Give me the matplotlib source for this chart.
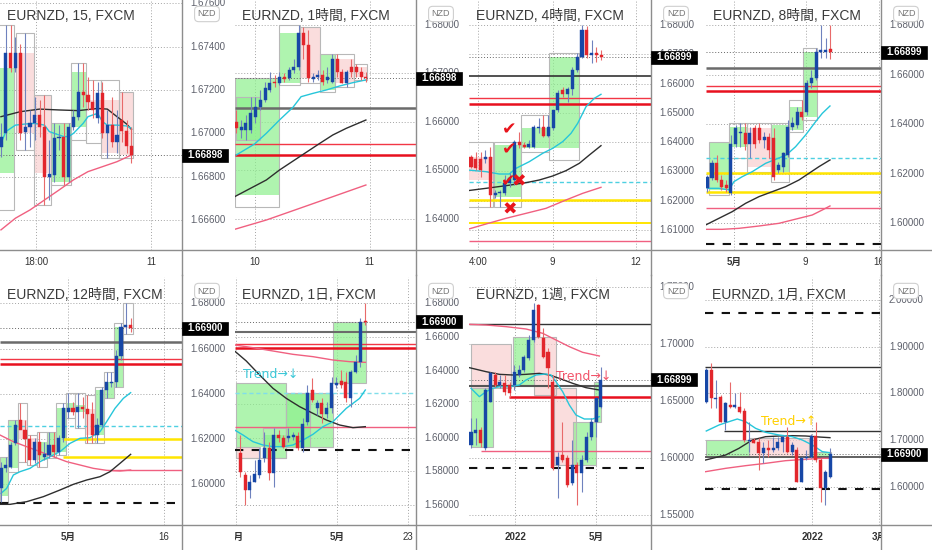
import matplotlib
matplotlib.use('Agg')
import matplotlib.pyplot as plt
import matplotlib.transforms as mtrans
from matplotlib.patches import Rectangle
from matplotlib.lines import Line2D

plt.rcParams['font.family'] = ['Liberation Sans', 'Noto Sans CJK JP', 'DejaVu Sans']

# ---------------- DATA ----------------
TITLES = ["EURNZD, 15, FXCM", "EURNZD, 1時間, FXCM", "EURNZD, 4時間, FXCM", "EURNZD, 8時間, FXCM",
          "EURNZD, 12時間, FXCM", "EURNZD, 1日, FXCM", "EURNZD, 1週, FXCM", "EURNZD, 1月, FXCM"]
TAGS = ["1.66898", "1.66898", "1.66899", "1.66899", "1.66900", "1.66900", "1.66899", "1.66900"]

# Panel 1 (15 min)
P1_O = [1.66938,1.67000,1.67369,1.67300,1.67369,1.67008,1.67031,1.67046,1.67085,1.67031,1.66800,1.66808,1.66977,1.66982,1.66800,1.67031,1.67077,1.67192,1.67177,1.67146,1.67069,1.67185,1.67000,1.67038,1.66962,1.67062,1.67012,1.66942]
P1_H = [1.67046,1.67500,1.67500,1.67446,1.67415,1.67462,1.67108,1.67169,1.67154,1.67177,1.66969,1.67046,1.67038,1.67046,1.67046,1.67108,1.67323,1.67323,1.67262,1.67246,1.67238,1.67238,1.67108,1.67169,1.67108,1.67192,1.67062,1.67031]
P1_L = [1.66892,1.66969,1.67285,1.67285,1.66969,1.66923,1.66938,1.66969,1.66985,1.66669,1.66692,1.66777,1.66923,1.66762,1.66777,1.67015,1.67062,1.67123,1.67108,1.67069,1.67046,1.66977,1.66885,1.66938,1.66908,1.66962,1.66908,1.66862]
P1_C = [1.66985,1.67369,1.67300,1.67369,1.67000,1.67031,1.67049,1.67085,1.67031,1.66800,1.66812,1.66977,1.66982,1.66800,1.67031,1.67077,1.67192,1.67177,1.67146,1.67108,1.67185,1.67000,1.67038,1.66962,1.66992,1.67012,1.66942,1.66898]
P1_MA_BLACK = [(0,1.67077),(4,1.67100),(8,1.67112),(12,1.67108),(16,1.67105),(20,1.67115),(22,1.67112),(24,1.67077),(26,1.67043),(27,1.67018)]
P1_MA_CYAN = [(0,1.66954),(1,1.67008),(3,1.67038),(5,1.67043),(7,1.67046),(9,1.67038),(10,1.67008),(11,1.67000),(13,1.66985),(14,1.66985),(15,1.67000),(16,1.67023),(17,1.67046),(18,1.67077),(19,1.67085),(20,1.67092),(21,1.67054),(22,1.67038),(24,1.67038),(26,1.67034),(27,1.67023)]
P1_MA_PINK = [(0,1.66554),(3,1.66608),(6,1.66646),(9,1.66692),(12,1.66738),(15,1.66785),(18,1.66823),(21,1.66846),(24,1.66869),(27,1.66900)]
P1_BOXES = [(-0.6,2.6,1.66815,1.67300,1.67500,1.66646,'g'),(3.1,6.9,1.67369,1.67000,1.67462,1.66923,'r'),
            (6.9,10.3,1.67177,1.66815,1.67177,1.66669,'r'),(10.3,14.5,1.66777,1.67046,1.67046,1.66762,'g'),
            (14.5,17.6,1.67031,1.67285,1.67323,1.66969,'g'),(17.6,20.7,1.67154,1.67108,1.67246,1.66954,'r'),
            (20.7,24.5,1.67154,1.66908,1.67246,1.66885,'r'),(24.5,27.3,1.67192,1.66900,1.67192,1.66885,'r')]

# Panel 2 (1h)
P2_O = [1.66007,1.65835,1.65835,1.65835,1.66110,1.66316,1.66454,1.66660,1.66832,1.66797,1.66921,1.66900,1.67072,1.67141,1.67828,1.67588,1.66880,1.66935,1.66969,1.66866,1.66832,1.67292,1.67038,1.66797,1.67141,1.67141,1.67038,1.66935]
P2_H = [1.66247,1.66041,1.66144,1.66522,1.66522,1.66660,1.66832,1.67038,1.66969,1.67038,1.67000,1.67141,1.67300,1.68000,1.67966,1.67900,1.67000,1.67072,1.67072,1.67141,1.67400,1.67400,1.67100,1.67072,1.67300,1.67200,1.67141,1.67038]
P2_L = [1.65766,1.65663,1.65629,1.65766,1.65973,1.66247,1.66419,1.66625,1.66729,1.66763,1.66832,1.66866,1.67000,1.67072,1.67292,1.66832,1.66832,1.66866,1.66763,1.66797,1.66797,1.66935,1.66797,1.66729,1.66935,1.66935,1.66866,1.66832]
P2_C = [1.65869,1.65904,1.65973,1.66179,1.66316,1.66454,1.66694,1.66797,1.66797,1.66921,1.66880,1.67072,1.67141,1.67828,1.67588,1.66900,1.66935,1.66969,1.66832,1.66935,1.67292,1.67038,1.66797,1.67038,1.67038,1.67038,1.66935,1.66898]
P2_MA_CYAN = [(0,1.65320),(3.8,1.65546),(6.25,1.65766),(9.0,1.66041),(11.8,1.66302),(13.5,1.66522),(16.0,1.66591),(18.75,1.66660),(21.5,1.66742),(24.3,1.66811),(26.9,1.66866)]
P2_MA_BLACK = [(-0.35,1.64460),(6.25,1.64804),(9.0,1.65010),(13.2,1.65285),(17.4,1.65560),(20.1,1.65732),(22.9,1.65869),(27.0,1.66041)]
P2_MA_PINK = [(-0.35,1.63787),(6.25,1.63979),(13.2,1.64220),(20.1,1.64460),(27.0,1.64701)]
P2_BOXES = [(-0.35,9.0,1.64495,1.66900,1.66900,1.64254,'g'),(0.0,5.0,1.65629,1.66522,1.66522,1.65629,'g'),
            (9.0,13.2,1.66797,1.67828,1.68000,1.66763,'g'),(13.2,17.4,1.67966,1.66900,1.67966,1.66797,'r'),
            (17.4,20.5,1.66660,1.67400,1.67400,1.66625,'g'),(20.5,24.5,1.67300,1.66800,1.67400,1.66729,'r'),
            (24.5,27.3,1.67141,1.66935,1.67200,1.66866,'r')]
P2_HLINES = [(1.66296,'#6b6b6b',1.8,'-',None),(1.65540,'#F23645',1.0,'-',None),(1.65313,'#E8101E',1.8,'-',None)]

# Panel 3 (4h)
P3_O = [1.63504,1.63413,1.63413,1.63413,1.63504,1.62195,1.62252,1.62275,1.62594,1.62707,1.64016,1.63903,1.63846,1.63846,1.64472,1.64506,1.64210,1.64472,1.65098,1.65781,1.65633,1.65803,1.66463,1.66919,1.67829,1.66976,1.67033,1.66976]
P3_H = [1.63561,1.63675,1.63675,1.63732,1.63846,1.62366,1.62366,1.62878,1.62935,1.64073,1.64358,1.64016,1.64073,1.64585,1.64813,1.64927,1.64927,1.65098,1.65781,1.65894,1.65894,1.66577,1.67033,1.68000,1.67966,1.67488,1.67260,1.67146]
P3_L = [1.63106,1.63049,1.62821,1.63276,1.61797,1.62082,1.61797,1.62195,1.62480,1.62537,1.63789,1.63789,1.63789,1.63789,1.64301,1.64187,1.64187,1.64415,1.65041,1.65553,1.65382,1.65610,1.66407,1.66862,1.66862,1.66691,1.66748,1.66805]
P3_C = [1.63163,1.63106,1.63049,1.63481,1.62195,1.62252,1.62309,1.62594,1.62764,1.64016,1.63903,1.63846,1.63937,1.64529,1.64506,1.64210,1.64506,1.65098,1.65667,1.65633,1.65803,1.66463,1.66919,1.67829,1.66976,1.67033,1.66976,1.66899]
P3_MA_CYAN = [(-0.69,1.63049),(3.11,1.62992),(5.87,1.62912),(7.94,1.62912),(9.32,1.63106),(12.09,1.63334),(14.85,1.63618),(16.92,1.63789),(18.99,1.64016),(20.72,1.64301),(22.10,1.64642),(23.83,1.65211),(25.55,1.65496),(26.93,1.65633)]
P3_MA_BLACK = [(-0.69,1.62343),(3.11,1.62423),(7.25,1.62514),(11.40,1.62616),(14.16,1.62708),(16.92,1.62844),(19.68,1.63026),(22.44,1.63277),(24.52,1.63561),(26.93,1.63880)]
P3_MA_PINK = [(-0.69,1.61023),(3.11,1.61205),(7.25,1.61399),(11.40,1.61569),(15.54,1.61740),(19.68,1.62025),(23.14,1.62252),(26.93,1.62457)]
P3_BOXES = [(-0.69,4.49,1.63504,1.62700,1.64016,1.61797,'r'),(4.83,10.36,1.62138,1.63903,1.64016,1.61797,'g'),
            (10.36,16.09,1.63789,1.64472,1.64927,1.63675,'g'),(16.23,22.44,1.63789,1.66919,1.67033,1.63400,'g')]
P3_HLINES = [(1.66270,'#333333',1.2,'-',None),(1.65519,'#F23645',1.0,'-',None),(1.65302,'#E8101E',1.8,'-',None),
             (1.62628,'#4DD0E1',1.0,'dash',None),(1.62013,'#FFE500',1.8,'-',None),(1.61228,'#FFE500',1.4,'-',None),
             (1.60636,'#F06080',1.0,'-',None)]
P3_MARKS = [(7.94,1.64438,'✔'),(7.94,1.63766,'✔'),(7.8,1.62651,'✔'),(9.9,1.62651,'✖'),(7.94,1.61683,'✖')]

# Panel 4 (8h)
P4_O = [1.61412,1.61815,1.62420,1.61748,1.61546,1.61237,1.63200,1.63630,1.63657,1.63200,1.63832,1.63832,1.63361,1.63469,1.63429,1.62151,1.62286,1.62756,1.63899,1.63966,1.64504,1.64504,1.65647,1.65849,1.66924,1.66924,1.67018]
P4_H = [1.61950,1.62555,1.62756,1.61950,1.61748,1.63563,1.63966,1.64034,1.64034,1.63899,1.63966,1.64034,1.63697,1.63630,1.63832,1.62487,1.62891,1.64168,1.64303,1.64706,1.64975,1.65782,1.66185,1.67059,1.68000,1.67462,1.68000]
P4_L = [1.61277,1.61748,1.61681,1.61345,1.61277,1.61143,1.63092,1.63092,1.62958,1.62622,1.63025,1.63227,1.63025,1.62622,1.61748,1.62017,1.62084,1.62689,1.63765,1.63832,1.64168,1.64370,1.65445,1.65782,1.66655,1.66655,1.66615]
P4_C = [1.61882,1.62420,1.61748,1.61479,1.61412,1.63200,1.63832,1.63657,1.63200,1.63630,1.63200,1.63361,1.63469,1.62958,1.61882,1.62353,1.62824,1.63899,1.64034,1.64504,1.64303,1.65647,1.65849,1.66924,1.66992,1.66992,1.66899]
P4_MA_CYAN = [(0,1.61412),(2.46,1.61412),(4.58,1.61345),(5.63,1.61681),(7.39,1.61882),(9.51,1.62084),(12.32,1.62420),(14.44,1.62582),(16.69,1.62756),(18.66,1.63092),(20.77,1.63563),(22.89,1.64101),(24.30,1.64437),(25.92,1.64733)]
P4_MA_BLACK = [(-0.35,1.59933),(2.46,1.60202),(5.28,1.60471),(8.10,1.60807),(10.92,1.61076),(13.73,1.61277),(16.55,1.61479),(19.37,1.61748),(21.48,1.62017),(23.59,1.62286),(25.92,1.62555)]
P4_MA_PINK = [(-0.35,1.59758),(3.17,1.59758),(6.69,1.59798),(10.92,1.59892),(15.14,1.60000),(19.37,1.60202),(22.18,1.60336),(24.30,1.60538),(25.92,1.60700)]
P4_BOXES = [(0.35,4.58,1.61345,1.63227,1.63294,1.61143,'g'),(4.58,8.45,1.63092,1.63899,1.64034,1.62622,'g'),
            (8.45,13.38,1.63832,1.62286,1.64034,1.62084,'r'),(13.38,17.25,1.62084,1.63966,1.64034,1.61681,'g'),
            (17.25,20.28,1.63765,1.64706,1.64975,1.63697,'g'),(20.28,23.24,1.64303,1.66924,1.67059,1.64168,'g')]
P4_HLINES = [(1.66279,'#6b6b6b',1.8,'-',None),(1.65539,'#F23645',1.0,'-',None),(1.65338,'#E8101E',1.8,'-',None),
             (1.62649,'#4DD0E1',1.0,'dash',None),(1.62030,'#FFE500',1.8,'-',None),(1.61250,'#FFE500',1.8,'-',None),
             (1.60618,'#F06080',1.0,'-',None),(1.59166,'#111111',1.5,'bdash',None)]

# Panel 5 (12h)
P5_O = [1.59823,1.60737,1.60781,1.61812,1.62843,1.62401,1.62004,1.61075,1.61886,1.61223,1.61296,1.61738,1.61444,1.62033,1.63212,1.63359,1.63212,1.63433,1.63330,1.63094,1.62180,1.62622,1.64169,1.64464,1.64538,1.65672,1.66969,1.67042]
P5_H = [1.61002,1.61223,1.61886,1.62843,1.63580,1.62843,1.62180,1.62033,1.62328,1.61886,1.62328,1.62328,1.62180,1.63580,1.64022,1.63654,1.64022,1.63875,1.63948,1.63654,1.62917,1.64317,1.64980,1.64980,1.65937,1.67116,1.68000,1.67337]
P5_L = [1.59234,1.60560,1.60707,1.61738,1.62475,1.61002,1.60854,1.60928,1.60781,1.61075,1.61149,1.61223,1.61296,1.61886,1.62917,1.63064,1.62475,1.62917,1.61812,1.61812,1.61812,1.62549,1.63801,1.64317,1.64317,1.65495,1.66630,1.66748]
P5_C = [1.60707,1.60854,1.61738,1.62622,1.62401,1.62004,1.61075,1.61886,1.61296,1.61326,1.61738,1.61444,1.62033,1.63389,1.63359,1.63212,1.63433,1.63330,1.63094,1.62180,1.62622,1.64169,1.64538,1.64538,1.65672,1.66969,1.67042,1.66900]
P5_MA_CYAN = [(0,1.59602),(1.18,1.59823),(2.57,1.60413),(3.96,1.60560),(6.04,1.60707),(8.13,1.61002),(10.21,1.61223),(12.29,1.61444),(14.38,1.61812),(16.46,1.62033),(18.54,1.62063),(20.63,1.62328),(22.01,1.62770),(23.75,1.63359),(25.49,1.63801),(27.01,1.64052)]
P5_MA_BLACK = [(-0.21,1.59116),(1.88,1.59116),(5.35,1.59234),(8.82,1.59455),(12.29,1.59750),(15.07,1.60000),(17.85,1.60192),(20.63,1.60339),(22.71,1.60560),(24.79,1.60928),(27.01,1.61326)]
P5_MA_PINK = [(-0.21,1.62180),(2.57,1.61886),(5.35,1.61665),(8.13,1.61444),(10.90,1.61223),(13.68,1.61002),(16.46,1.60855),(19.24,1.60707),(22.01,1.60619),(24.79,1.60589),(27.01,1.60634)]
P5_BOXES = [(-0.2,1.5,1.59500,1.61223,1.61223,1.59234,'g'),(1.5,3.5,1.60707,1.62843,1.62843,1.60560,'g'),
            (3.5,5.5,1.62843,1.62004,1.63580,1.61002,'r'),(5.5,7.5,1.62033,1.61075,1.62180,1.60854,'r'),
            (7.5,9.5,1.61075,1.61886,1.62328,1.60781,'g'),(9.5,11.5,1.61300,1.62328,1.62328,1.61149,'g'),
            (11.5,13.5,1.61444,1.63389,1.63580,1.61296,'g'),(13.5,15.5,1.63212,1.63580,1.64022,1.62917,'g'),
            (15.5,17.5,1.63212,1.63500,1.64022,1.62475,'g'),(17.5,19.5,1.63330,1.62180,1.63948,1.61812,'r'),
            (19.5,21.5,1.62180,1.64169,1.64317,1.61812,'g'),(21.5,23.5,1.63801,1.64538,1.64980,1.63801,'g'),
            (23.5,25.5,1.64317,1.66969,1.67116,1.64317,'g'),(25.5,27.5,1.66969,1.66900,1.68000,1.66630,'r')]
P5_HLINES = [(1.66306,'#6b6b6b',1.8,'-',None),(1.65525,'#F23645',1.0,'-',None),(1.65304,'#E8101E',1.8,'-',None),
             (1.62593,'#4DD0E1',1.0,'dash',None),(1.62004,'#FFE500',1.8,'-',13.0),(1.61223,'#FFE500',1.8,'-',13.0),
             (1.60619,'#F06080',1.0,'-',22.7),(1.59175,'#111111',1.5,'bdash',None)]

# Panel 6 (1 day)
P6_O = [1.59075,1.57786,1.56893,1.57389,1.57786,1.58778,1.59372,1.57885,1.60166,1.59967,1.60007,1.60067,1.60126,1.59372,1.60959,1.62843,1.61753,1.62050,1.61396,1.61753,1.63141,1.63379,1.63339,1.62347,1.63934,1.64489,1.66909]
P6_H = [1.60166,1.57984,1.57786,1.58678,1.59372,1.60364,1.59769,1.60563,1.60463,1.60166,1.60563,1.60364,1.60364,1.61158,1.63141,1.63538,1.62248,1.62347,1.62149,1.63637,1.63637,1.64033,1.63934,1.64033,1.64926,1.67107,1.68000]
P6_L = [1.57687,1.56001,1.56398,1.57389,1.57588,1.58579,1.57488,1.57092,1.59769,1.59372,1.59769,1.59868,1.59273,1.59174,1.60761,1.62149,1.61356,1.60860,1.61158,1.61455,1.62943,1.62943,1.62149,1.61852,1.63835,1.64232,1.66711]
P6_C = [1.57984,1.56893,1.57389,1.57825,1.58678,1.59372,1.57885,1.60166,1.59967,1.59472,1.60126,1.60166,1.59372,1.60801,1.62645,1.62248,1.62050,1.61396,1.61792,1.63240,1.63240,1.63141,1.62387,1.63934,1.64529,1.66909,1.66900]
P6_MA_CYAN = [(-1.18,1.60463),(0.56,1.60166),(2.64,1.59769),(4.72,1.59571),(6.81,1.59472),(8.89,1.59472),(10.97,1.59571),(13.06,1.59868),(15.14,1.60206),(17.22,1.60662),(19.31,1.60959),(20.69,1.61356),(22.08,1.61753),(23.47,1.62050),(24.86,1.62347),(26.04,1.62843)]
P6_MA_BLACK = [(-1.18,1.65164),(1.25,1.64569),(4.03,1.63736),(6.81,1.62943),(9.58,1.62347),(12.36,1.61852),(15.14,1.61455),(17.92,1.61059),(20.69,1.60761),(23.47,1.60602),(26.04,1.60662)]
P6_MA_PINK = [(-1.18,1.65521),(2.64,1.65362),(6.81,1.65164),(10.97,1.64966),(15.14,1.64827),(19.31,1.64628),(22.78,1.64529),(26.04,1.64489)]
P6_BOXES = [(-0.83,9.58,1.59472,1.63240,1.63240,1.58778,'g'),(-0.83,4.03,1.59472,1.58778,1.59472,1.58778,'r'),
            (4.72,9.58,1.58778,1.60166,1.60563,1.58778,'g'),(9.58,19.31,1.59472,1.62645,1.62645,1.59472,'g'),
            (9.58,14.44,1.59472,1.62645,1.62645,1.59472,'g'),(19.31,26.25,1.63240,1.66909,1.66909,1.63240,'g')]
P6_HLINES = [(1.66275,'#6b6b6b',1.5,'-',None),(1.65560,'#F23645',1.0,'-',None),(1.65362,'#E8101E',1.8,'-',None),
             (1.62685,'#80DEEA',1.0,'dash',None),(1.60662,'#F06080',1.0,'-',None),(1.59273,'#111111',1.5,'bdash',None)]
P6_TEXT = (0.56, 1.63776, 'Trend→↓', '#3CC8D8')

# Panel 7 (1 week)
P7_O = [1.61152,1.62177,1.62470,1.60858,1.64960,1.67304,1.66425,1.66572,1.66425,1.66425,1.67304,1.67744,1.68769,1.70381,1.73457,1.70527,1.69355,1.66718,1.59394,1.60273,1.59979,1.57782,1.59394,1.58661,1.59833,1.61884,1.63202,1.64521]
P7_H = [1.63495,1.63495,1.62763,1.66132,1.67597,1.67597,1.67304,1.67304,1.66718,1.68183,1.68183,1.69062,1.70820,1.73604,1.73516,1.71406,1.69648,1.67304,1.60566,1.63202,1.60273,1.61591,1.59687,1.60273,1.62323,1.63495,1.65253,1.68037]
P7_L = [1.60858,1.61152,1.61005,1.60712,1.64960,1.66279,1.66132,1.65546,1.65400,1.65986,1.67158,1.67597,1.68623,1.70234,1.70527,1.68769,1.66132,1.58954,1.56464,1.59687,1.57489,1.57636,1.55878,1.57050,1.59687,1.61591,1.61884,1.64374]
P7_C = [1.62323,1.62470,1.61298,1.65986,1.67451,1.66425,1.66660,1.65839,1.65693,1.67597,1.67744,1.68916,1.70381,1.73018,1.70674,1.68916,1.67890,1.59100,1.60126,1.59833,1.57636,1.59394,1.58661,1.59833,1.61884,1.63202,1.65253,1.66899]
P7_MA_PINK = [(-0.35,1.71758),(3.12,1.71699),(7.27,1.71553),(11.43,1.71348),(14.89,1.70967),(17.66,1.70381),(20.43,1.69795),(23.20,1.69297),(26.66,1.68975)]
P7_MA_BLACK = [(-0.35,1.67949),(3.12,1.67597),(5.89,1.67363),(8.66,1.67304),(11.43,1.67363),(14.20,1.67451),(16.27,1.67304),(18.35,1.67011),(21.12,1.66572),(23.89,1.66191),(26.66,1.65986)]
P7_MA_CYAN = [(0,1.66132),(1.73,1.65400),(3.12,1.65839),(4.50,1.66132),(5.89,1.66279),(7.96,1.66279),(10.04,1.66425),(11.43,1.66865),(13.50,1.67304),(15.58,1.67392),(16.62,1.67304),(17.66,1.66718),(19.04,1.65839),(20.43,1.64667),(21.81,1.63788),(23.55,1.63437),(25.28,1.63437),(26.66,1.63642)]
P7_BOXES = [(0,8.31,1.70000,1.66132,1.70000,1.66132,'r'),(0,4.50,1.61005,1.66132,1.66132,1.61005,'g'),
            (8.66,13.16,1.66425,1.70674,1.70674,1.66425,'g'),(13.16,17.66,1.70674,1.65546,1.70674,1.65546,'r'),
            (17.31,21.81,1.66132,1.59394,1.66132,1.59394,'r'),(21.12,25.97,1.59394,1.63202,1.63202,1.59394,'g'),
            (25.62,27.0,1.63202,1.66718,1.66718,1.63202,'g')]
P7_HLINES = [(1.71758,'#333333',1.0,'-',None),(1.66338,'#555555',1.5,'-',None),(1.65341,'#E8101E',1.8,'-',7.96),
             (1.60624,'#F06080',1.0,'-',2.08),(1.59159,'#111111',1.5,'bdash',None)]
P7_TEXT = (17.66, 1.67216, 'Trend→↓', '#F2546A')

# Panel 8 (1 month)
P8_O = [1.78214,1.85000,1.78786,1.79286,1.73929,1.77500,1.77143,1.77143,1.76214,1.69786,1.70000,1.69643,1.67143,1.68214,1.67857,1.68214,1.69643,1.70714,1.67500,1.67857,1.61071,1.66071,1.66429,1.70929,1.65714,1.59643,1.62143]
P8_H = [1.85357,1.86429,1.82857,1.79643,1.78214,1.82500,1.80000,1.80357,1.76786,1.73929,1.70357,1.70357,1.69643,1.70000,1.70714,1.70714,1.71071,1.72857,1.69643,1.68571,1.66429,1.67857,1.71214,1.73929,1.66071,1.63571,1.68214]
P8_L = [1.77857,1.76786,1.76786,1.73929,1.72143,1.76786,1.76786,1.75714,1.69643,1.67500,1.69286,1.63571,1.65000,1.66429,1.67500,1.67857,1.67500,1.67143,1.66786,1.61071,1.60929,1.65714,1.66071,1.65357,1.56786,1.56071,1.61786]
P8_C = [1.85000,1.78929,1.79071,1.73929,1.77857,1.77143,1.77500,1.76071,1.70000,1.70000,1.69286,1.67143,1.68214,1.67857,1.68214,1.69643,1.70714,1.67500,1.68929,1.61071,1.66071,1.66429,1.70929,1.65714,1.59643,1.63214,1.66900]
P8_MA_CYAN = [(0,1.71929),(2.66,1.73214),(4.76,1.73929),(6.50,1.74500),(8.25,1.73929),(10.35,1.72500),(12.45,1.71643),(15.24,1.71071),(18.04,1.70714),(20.14,1.70000),(22.24,1.68929),(24.34,1.67500),(25.94,1.67286)]
P8_MA_BLACK = [(-0.14,1.65714),(4.06,1.66786),(6.85,1.68214),(9.65,1.70000),(12.45,1.70714),(15.24,1.70857),(18.04,1.70929),(20.84,1.70857),(23.64,1.70643),(25.94,1.70500)]
P8_MA_PINK = [(-0.14,1.63214),(4.06,1.63929),(8.25,1.64500),(12.45,1.65000),(16.64,1.65571),(20.84,1.65857),(24.34,1.66071),(25.94,1.66071)]
P8_BOXES = [(0,8.95,1.66429,1.70000,1.70000,1.66429,'g'),(8.95,21.54,1.70357,1.66429,1.70357,1.66429,'r'),
            (21.54,26.08,1.66429,1.67500,1.67500,1.66429,'g')]
P8_HLINES = [(1.97143,'#111111',1.5,'bdash',None),(1.85714,'#333333',1.0,'-',None),(1.72000,'#333333',1.0,'-',3.71),
             (1.66429,'#555555',1.3,'-',None),(1.59429,'#111111',1.5,'bdash',None)]
P8_TEXT = (11.40, 1.73929, 'Trend→↑', '#FFD000')

# axis ticks
P1_YT = [1.666,1.668,1.670,1.672,1.674,1.676]
P2_YT = [1.64,1.65,1.66,1.67,1.68]
P3_YT = [1.61,1.62,1.63,1.64,1.65,1.66,1.67,1.68]
P4_YT = [1.60,1.62,1.64,1.66,1.68]
P5_YT = [1.60,1.62,1.64,1.66,1.68]
P6_YT = [1.56,1.58,1.60,1.62,1.64,1.66,1.68]
P7_YT = [1.55,1.60,1.65,1.70,1.75]
P8_YT = [1.6,1.7,1.8,1.9,2.0]
P1_XT, P1_XL = [7.24,31.0], ['18:00','11']
P2_XT, P2_XL = [3.8,27.8], ['10','11']
P3_XT, P3_XL = [1.4,16.9,34.2], ['4:00','9','12']
P4_XT, P4_XL = [5.63,20.8,36.3], ['5月','9','16']
P5_XT, P5_XL = [14.0,34.0], ['5月','16']
P6_XT, P6_XL = [-0.83,20.1,35.0], ['4月','5月','23']
P7_XT, P7_XL = [9.2,26.0], ['2022','5月']
P8_XT, P8_XL = [22.2,36.2], ['2022','3月']
BOLD_LABELS = {'5月','4月','3月','2022'}

# ---------------- DRAWING ----------------
W, H = 932, 550
fig = plt.figure(figsize=(W/100, H/100), dpi=100)
fig.patch.set_facecolor('white')

BLUE, RED = '#1747A6', '#E2262C'
BLUE_W, RED_W = '#6F82BE', '#E86A6A'
GREEN, PINK = '#8EF08E', '#F9CFCF'
CYAN, DARK, PINKMA = '#26C6DA', '#2E2E2E', '#F06080'


def ff(x, y):
    return (x / W, 1 - y / H)


def px_box(x0, y0, x1, y1):
    return mtrans.TransformedBbox(mtrans.Bbox.from_extents(x0 / W, 1 - y1 / H, x1 / W, 1 - y0 / H), fig.transFigure)


def panel(rect, cell, xlim, ylim, yticks, xticks, xlabels, title, tag,
          O, Hh, Lw, C, mas, hlines, boxes, texts=(), marks=()):
    L, T, R, B = rect
    cellT, cellR, cellB = cell
    ax = fig.add_axes([L / W, 1 - B / H, (R - L) / W, (B - T) / H])
    ax.set_xlim(*xlim)
    ax.set_ylim(*ylim)
    ax.set_xticks(xticks)
    ax.set_yticks(yticks)
    ax.tick_params(length=0, labelbottom=False, labelleft=False)
    for s in ax.spines.values():
        s.set_visible(False)
    ax.set_facecolor('white')
    ax.grid(True, color='#a4a4a4', lw=0.7, ls=(0, (1, 2)))
    ax.set_axisbelow(True)

    span = ylim[1] - ylim[0]
    # boxes
    for x0, x1, o, c, hi, lo, k in boxes:
        fc = GREEN if k == 'g' else PINK
        ax.add_patch(Rectangle((x0, min(o, c)), x1 - x0, max(abs(c - o), span * 0.004),
                               fc=fc, ec='none', alpha=0.7, zorder=1))
        ax.add_patch(Rectangle((x0, lo), x1 - x0, hi - lo, fc='none', ec='#B8B8B8', lw=0.8, zorder=1.5))
    # horizontal lines
    for y, col, lw, st, xs in hlines:
        ls = '-' if st == '-' else ((0, (3, 2)) if st == 'dash' else (0, (4, 4)))
        x0 = xlim[0] if xs is None else xs
        ax.plot([x0, xlim[1]], [y, y], color=col, lw=lw, ls=ls, zorder=2, solid_capstyle='butt')
    # current price line
    ax.axhline(C[-1], color='#666666', lw=0.7, ls=(0, (1, 2)), zorder=2)
    # moving averages
    for pts, col in mas:
        ax.plot([p[0] for p in pts], [p[1] for p in pts], color=col, lw=1.0, zorder=3)
    # candles
    for i, (o, h, l, c) in enumerate(zip(O, Hh, Lw, C)):
        up = c >= o
        col = BLUE if up else RED
        ax.vlines(i, l, h, color=BLUE_W if up else RED_W, lw=0.8, zorder=4)
        lo, hi = min(o, c), max(o, c)
        ax.add_patch(Rectangle((i - 0.32, lo), 0.64, max(hi - lo, span * 0.004),
                               fc=col, ec=col, lw=0.3, zorder=5))
    for x, y, s, col in texts:
        ax.text(x, y, s, color=col, fontsize=9, ha='left', va='center', zorder=6,
                family=['DejaVu Sans'])
    for x, y, s in marks:
        ax.text(x, y, s, color='#E8141C', fontsize=12.5, ha='center', va='center', zorder=6,
                family=['DejaVu Sans'], fontweight='bold')

    def ypx(p):
        return T + (ylim[1] - p) / span * (B - T)

    def xpx(v):
        return L + (v - xlim[0]) / (xlim[1] - xlim[0]) * (R - L)

    # price labels
    for yv in yticks:
        t = fig.text(*ff(R + 8, ypx(yv)), f'{yv:.5f}', ha='left', va='center', fontsize=7, color='#5d606b')
        t.set_clip_box(px_box(R, T, cellR, B))
    # time labels
    for xv, lab in zip(xticks, xlabels):
        t = fig.text(*ff(xpx(xv), B + 12), lab, ha='center', va='center', fontsize=7, color='#333333',
                     fontweight='bold' if lab in BOLD_LABELS else 'normal')
        t.set_clip_box(px_box(L, B, R, cellB))
    # title
    fig.text(*ff(L + 7, T + 16 + (2 if T > 0 else 0)), title, ha='left', va='center', fontsize=10, color='#3b3b3b')
    # price tag
    yt = ypx(C[-1])
    fig.add_artist(Rectangle(ff(R, yt + 6.5), 46 / W, 13 / H, transform=fig.transFigure,
                             fc='black', ec='black', lw=0.5, zorder=4))
    fig.text(*ff(R + 23, yt), tag, ha='center', va='center', color='white', fontsize=7,
             fontweight='bold', zorder=5)
    # NZD badge
    fig.text(*ff(R + 25, T + 14), 'NZD', ha='center', va='center', fontsize=6.5, color='#777777', zorder=5,
             bbox=dict(boxstyle='round,pad=0.35,rounding_size=0.45', fc='white', ec='#cfcfcf', lw=0.8))
    # separators
    fig.add_artist(Line2D([R / W, R / W], [1 - cellT / H, 1 - cellB / H], transform=fig.transFigure,
                          color='#8d8d8d', lw=1.0, zorder=3))
    return ax


panel((0, 0, 182, 250), (0, 233, 275), (-0.2, 37.45), (1.66461, 1.67616), P1_YT, P1_XT, P1_XL, TITLES[0], TAGS[0],
      P1_O, P1_H, P1_L, P1_C, [(P1_MA_PINK, PINKMA), (P1_MA_BLACK, DARK), (P1_MA_CYAN, CYAN)], [], P1_BOXES)
panel((235, 0, 416, 250), (0, 466, 275), (-0.27, 37.44), (1.63361, 1.68515), P2_YT, P2_XT, P2_XL, TITLES[1], TAGS[1],
      P2_O, P2_H, P2_L, P2_C, [(P2_MA_PINK, PINKMA), (P2_MA_BLACK, DARK), (P2_MA_CYAN, CYAN)], P2_HLINES, P2_BOXES)
panel((469, 0, 651, 250), (0, 699, 275), (-0.41, 37.29), (1.60317, 1.68854), P3_YT, P3_XT, P3_XL, TITLES[2], TAGS[2],
      P3_O, P3_H, P3_L, P3_C, [(P3_MA_PINK, PINKMA), (P3_MA_BLACK, DARK), (P3_MA_CYAN, CYAN)], P3_HLINES, P3_BOXES,
      marks=P3_MARKS)
panel((706, 0, 881, 250), (0, 932, 275), (-0.27, 36.70), (1.58924, 1.69008), P4_YT, P4_XT, P4_XL, TITLES[3], TAGS[3],
      P4_O, P4_H, P4_L, P4_C, [(P4_MA_PINK, PINKMA), (P4_MA_BLACK, DARK), (P4_MA_CYAN, CYAN)], P4_HLINES, P4_BOXES)
panel((0, 277, 182, 525), (275, 233, 550), (-0.21, 37.71), (1.58203, 1.69164), P5_YT, P5_XT, P5_XL, TITLES[4], TAGS[4],
      P5_O, P5_H, P5_L, P5_C, [(P5_MA_PINK, PINKMA), (P5_MA_BLACK, DARK), (P5_MA_CYAN, CYAN)], P5_HLINES, P5_BOXES)
panel((235, 277, 416, 525), (275, 466, 550), (-1.10, 36.60), (1.54811, 1.69567), P6_YT, P6_XT, P6_XL, TITLES[5], TAGS[5],
      P6_O, P6_H, P6_L, P6_C, [(P6_MA_PINK, PINKMA), (P6_MA_BLACK, DARK), (P6_MA_CYAN, CYAN)], P6_HLINES, P6_BOXES,
      texts=[P6_TEXT])
panel((469, 277, 651, 525), (275, 699, 550), (-0.42, 37.40), (1.54120, 1.75918), P7_YT, P7_XT, P7_XL, TITLES[6], TAGS[6],
      P7_O, P7_H, P7_L, P7_C, [(P7_MA_PINK, PINKMA), (P7_MA_BLACK, DARK), (P7_MA_CYAN, CYAN)], P7_HLINES, P7_BOXES,
      texts=[P7_TEXT])
panel((705, 277, 881, 525), (275, 932, 550), (-0.27, 36.65), (1.51786, 2.04929), P8_YT, P8_XT, P8_XL, TITLES[7], TAGS[7],
      P8_O, P8_H, P8_L, P8_C, [(P8_MA_PINK, PINKMA), (P8_MA_BLACK, DARK), (P8_MA_CYAN, CYAN)], P8_HLINES, P8_BOXES,
      texts=[P8_TEXT])

# row bottom lines
for yb in (250, 525):
    fig.add_artist(Line2D([0, 1], [1 - yb / H, 1 - yb / H], transform=fig.transFigure, color='#8d8d8d', lw=1.0, zorder=3))

fig.savefig('out.png', dpi=100, facecolor='white')
